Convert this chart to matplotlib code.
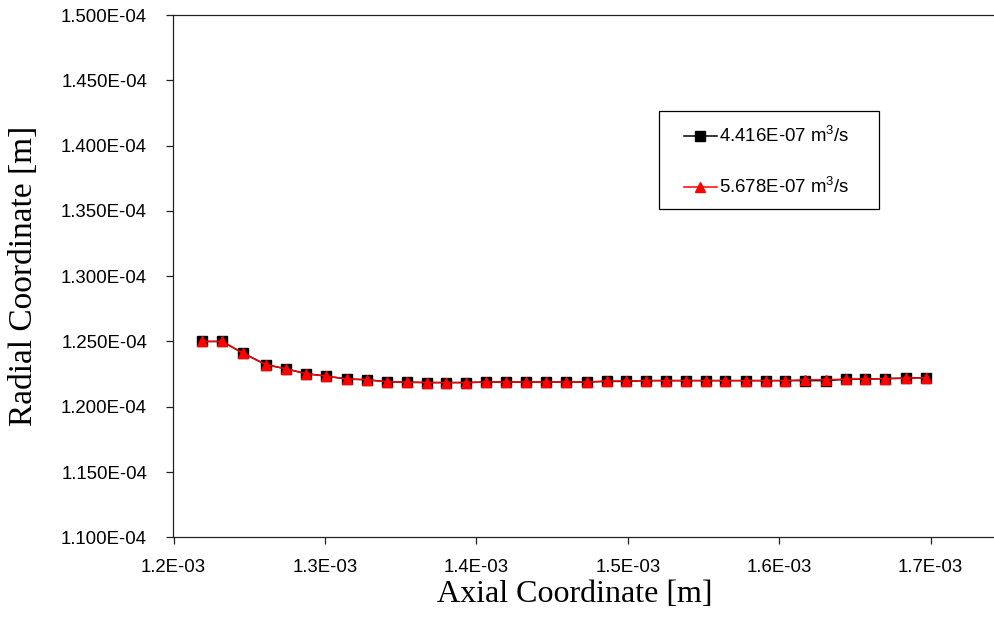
import matplotlib
matplotlib.use("Agg")
import matplotlib.pyplot as plt
from matplotlib.patches import Rectangle
from matplotlib.ticker import FuncFormatter, FixedLocator

# Axial positions [m] of the profile nodes
axial = [1.2190e-3, 1.2322e-3, 1.2457e-3, 1.2611e-3, 1.2741e-3, 1.2875e-3,
         1.3005e-3, 1.3144e-3, 1.3276e-3, 1.3408e-3, 1.3542e-3, 1.3672e-3,
         1.3800e-3, 1.3932e-3, 1.4064e-3, 1.4196e-3, 1.4328e-3, 1.4460e-3,
         1.4595e-3, 1.4729e-3, 1.4861e-3, 1.4988e-3, 1.5119e-3, 1.5251e-3,
         1.5384e-3, 1.5515e-3, 1.5644e-3, 1.5781e-3, 1.5913e-3, 1.6040e-3,
         1.6173e-3, 1.6309e-3, 1.6439e-3, 1.6567e-3, 1.6699e-3, 1.6836e-3,
         1.6968e-3]

# Radial coordinate [m] for the two flow rates
radial_q1 = [1.2500e-4, 1.2500e-4, 1.2411e-4, 1.2322e-4, 1.2291e-4, 1.2253e-4,
             1.2235e-4, 1.2212e-4, 1.2207e-4, 1.2191e-4, 1.2188e-4, 1.2185e-4,
             1.2185e-4, 1.2185e-4, 1.2189e-4, 1.2189e-4, 1.2189e-4, 1.2189e-4,
             1.2189e-4, 1.2189e-4, 1.2194e-4, 1.2194e-4, 1.2200e-4, 1.2200e-4,
             1.2200e-4, 1.2200e-4, 1.2200e-4, 1.2200e-4, 1.2200e-4, 1.2200e-4,
             1.2200e-4, 1.2200e-4, 1.2210e-4, 1.2212e-4, 1.2215e-4, 1.2219e-4,
             1.2222e-4]
radial_q2 = [1.2500e-4, 1.2500e-4, 1.2411e-4, 1.2322e-4, 1.2291e-4, 1.2253e-4,
             1.2235e-4, 1.2212e-4, 1.2207e-4, 1.2191e-4, 1.2188e-4, 1.2185e-4,
             1.2185e-4, 1.2185e-4, 1.2189e-4, 1.2189e-4, 1.2189e-4, 1.2189e-4,
             1.2189e-4, 1.2189e-4, 1.2197e-4, 1.2197e-4, 1.2200e-4, 1.2200e-4,
             1.2200e-4, 1.2200e-4, 1.2200e-4, 1.2200e-4, 1.2200e-4, 1.2200e-4,
             1.2206e-4, 1.2206e-4, 1.2211e-4, 1.2212e-4, 1.2215e-4, 1.2219e-4,
             1.2222e-4]

labels = [r"4.416E-07 m$^{3}$/s", r"5.678E-07 m$^{3}$/s"]
x_ticks = [1.2e-3, 1.3e-3, 1.4e-3, 1.5e-3, 1.6e-3, 1.7e-3]
y_ticks = [1.10e-4, 1.15e-4, 1.20e-4, 1.25e-4, 1.30e-4, 1.35e-4, 1.40e-4, 1.45e-4, 1.50e-4]

plt.rcParams["mathtext.fontset"] = "custom"
plt.rcParams["mathtext.rm"] = "Liberation Sans"
plt.rcParams["mathtext.it"] = "Liberation Sans"
plt.rcParams["mathtext.bf"] = "Liberation Sans"

W, H = 995, 620
fig = plt.figure(figsize=(W / 100, H / 100), dpi=100)
left, right, top, bottom = 173.5, 995.0, 15.0, 537.3
ax = fig.add_axes([left / W, 1 - bottom / H, (right - left) / W, (bottom - top) / H])

ax.plot(axial, radial_q1, color="black", lw=1.1, marker="s", ms=6.5,
        mfc="black", mec="black", label=labels[0], zorder=3)
ax.plot(axial, radial_q2, color="red", lw=1.1, marker="^", ms=6.8,
        mfc="red", mec="red", label=labels[1], zorder=4)

ax.set_xlim(1.2e-3, 1.2e-3 + (right - left) / 1514.2 * 1e-3)
ax.set_ylim(1.10e-4, 1.50e-4)
ax.xaxis.set_major_locator(FixedLocator(x_ticks))
ax.yaxis.set_major_locator(FixedLocator(y_ticks))
ax.xaxis.set_major_formatter(FuncFormatter(lambda v, p: f"{v:.1E}"))
ax.yaxis.set_major_formatter(FuncFormatter(lambda v, p: f"{v:.3E}"))

for s in ("left", "bottom", "top"):
    ax.spines[s].set_color("#222222")
    ax.spines[s].set_linewidth(0.9)
ax.spines["right"].set_visible(False)

ax.tick_params(axis="both", direction="out", length=5, width=0.9, color="#222222",
               labelsize=13.4, labelcolor="black")
ax.tick_params(axis="y", pad=14)
ax.tick_params(axis="x", pad=10.5)
for lbl in ax.get_xticklabels() + ax.get_yticklabels():
    lbl.set_fontfamily("Liberation Sans")

ax.set_xlabel("Axial Coordinate [m]", fontsize=23, fontfamily="Liberation Serif",
              va="center")
ax.xaxis.set_label_coords((574.5 - left) / (right - left), (bottom - 595) / (bottom - top))
ax.set_ylabel("Radial Coordinate [m]", fontsize=24, fontfamily="Liberation Serif",
              va="center")
ax.yaxis.set_label_coords((24 - left) / (right - left), (bottom - 276) / (bottom - top))

# Legend entries without their own frame; the box is drawn separately
leg = ax.legend(loc="upper left", bbox_to_anchor=(684 / W, 1 - 126 / H),
                bbox_transform=fig.transFigure, borderaxespad=0,
                prop={"family": "Liberation Sans", "size": 13.4},
                frameon=False, handlelength=1.75, handletextpad=0.12,
                labelspacing=1.66, borderpad=0.0)
fig.patches.append(Rectangle((659 / W, 1 - 209.3 / H), (879 - 659) / W,
                             (209.3 - 110.7) / H, transform=fig.transFigure,
                             facecolor="none", edgecolor="black", lw=0.9,
                             zorder=5))

fig.savefig("out.png", dpi=100)
